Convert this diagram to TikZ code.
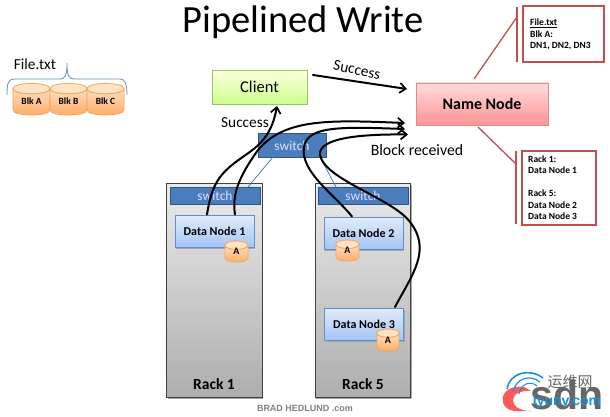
\documentclass[tikz,border=0pt]{standalone}
\usepackage{fontspec}
\setmainfont{Carlito}
\newfontfamily\cjk{Noto Sans CJK SC}
\newfontfamily\lib{Liberation Sans}
\usetikzlibrary{arrows.meta,shadows}
\definecolor{swfill}{HTML}{4A7DBB}
\definecolor{swline}{HTML}{2F5587}
\definecolor{redline}{HTML}{C0504D}
\definecolor{logoblue}{HTML}{1E90D8}
\definecolor{dntop}{HTML}{E2ECFB}
\definecolor{dnbot}{HTML}{A3C5F6}
\definecolor{dnline}{HTML}{5F8FC8}
\tikzset{
  px/.style={font=\fontsize{#1}{#1}\selectfont},
  boxbase/.style={inner sep=0pt,outer sep=0pt,align=center},
  shad/.style={general shadow={fill=black!35,shadow xshift=1pt,shadow yshift=-1.5pt}},
  rackbox/.style={boxbase,draw=black!75,line width=0.8pt,top color=black!8,bottom color=black!32,minimum width=95.5pt,minimum height=214pt,shad},
  switchbox/.style={boxbase,draw=swline,line width=1pt,fill=swfill,text=white!88!blue,px=13.5},
  datanode/.style={boxbase,draw=dnline,line width=0.8pt,top color=dntop,bottom color=dnbot,minimum width=79pt,minimum height=32pt,font=\fontsize{12}{13}\selectfont\bfseries,shad},
  wire/.style={line width=2pt,black,line cap=round},
  wirearrow/.style={wire,-{Straight Barb[length=6pt,width=10pt,line width=1.7pt]}},
  uplink/.style={line width=0.8pt,swfill},
  redcall/.style={line width=1.3pt,redline},
  redbox/.style={boxbase,draw=redline,line width=1.3pt,fill=white},
  smalltxt/.style={anchor=west,inner sep=0pt,font=\fontsize{9.5}{9.5}\selectfont\bfseries},
  bracecol/.style={line width=0.8pt,color=blue!40!cyan!45!black!60},
  label/.style={inner sep=0pt,px=15.3}
}
\newcommand{\cylin}[6]{%
  % x1, x2, ytop (top of ellipse), ybottom (lowest point), label, font size
  \pgfmathsetmacro{\ry}{2.7+0.065*(#2-#1)}%
  \pgfmathsetmacro{\rk}{4/3*\ry}%
  \path[draw=orange!70!brown!70,line width=0.8pt,top color=orange!25!white,bottom color=orange!60!white!95!red]
    (#1,#3+\ry) -- (#1,#4-\ry) .. controls (#1,#4-\ry+\rk) and (#2,#4-\ry+\rk) .. (#2,#4-\ry)
    -- (#2,#3+\ry) .. controls (#2,#3+\ry+\rk) and (#1,#3+\ry+\rk) .. (#1,#3+\ry) -- cycle;
  \path[draw=orange!70!brown!70,line width=0.8pt,fill=orange!22!white]
    (#1,#3+\ry) .. controls (#1,#3+\ry-\rk) and (#2,#3+\ry-\rk) .. (#2,#3+\ry)
    .. controls (#2,#3+\ry+\rk) and (#1,#3+\ry+\rk) .. (#1,#3+\ry) -- cycle;
  \node[inner sep=0pt,font=\fontsize{#6}{#6}\selectfont\bfseries] at ({(#1+#2)/2},{(#3+#4)/2+(#4-#3-20)*0.2}) {#5};
}
\begin{document}
\begin{tikzpicture}[x=1pt,y=-1pt]
\useasboundingbox (0,0) rectangle (610,417);
\fill[white] (0,0) rectangle (610,417);

% title
\node[inner sep=0pt,px=38.5,anchor=base] (title) at (303,33) {Pipelined Write};

% left file group
\node[label] (filetxt) at (35,64.5) {File.txt};
\draw[bracecol] (7,95) .. controls (7,84) and (8,79) .. (14,79) -- (60,79)
  .. controls (65,79) and (67,76) .. (67,63) .. controls (67,76) and (69,79) .. (74,79)
  -- (120,79) .. controls (125,79) and (127,84) .. (127,95);
\cylin{13}{50}{83.5}{115}{Blk A}{9.5}
\cylin{50}{87}{83.5}{115}{Blk B}{9.5}
\cylin{87}{124}{83.5}{115}{Blk C}{9.5}

% racks
\node[rackbox] (rack1) at (214.5,290) {};
\node[rackbox] (rack5) at (363,290) {};
\node[inner sep=0pt,font=\fontsize{15.5}{16}\selectfont\bfseries] (rack1l) at (214,384) {Rack 1};
\node[inner sep=0pt,font=\fontsize{15.5}{16}\selectfont\bfseries] (rack5l) at (363,384) {Rack 5};

% switches
\node[switchbox,minimum width=90pt,minimum height=17pt] (sw1) at (215,195.5) {switch};
\node[switchbox,minimum width=90pt,minimum height=17pt] (sw5) at (363,195.5) {switch};
\node[switchbox,minimum width=68pt,minimum height=23pt] (sw0) at (292,145.5) {switch};
\coordinate (sw0a) at (273,157);
\coordinate (sw0b) at (320,157);
\coordinate (r1a) at (248,187);
\coordinate (r5a) at (336,187);
\draw[uplink] (sw0a) -- (r1a);
\draw[uplink] (sw0b) -- (r5a);

% data nodes
\node[datanode] (dn1) at (214.5,231) {Data Node 1};
\node[datanode] (dn2) at (363.5,233) {Data Node 2};
\node[datanode] (dn3) at (364,324) {Data Node 3};
\cylin{225}{248}{241}{262}{A}{10}
\cylin{336}{359}{240}{261}{A}{10}
\cylin{377}{399}{329}{351}{A}{10}

% client and name node
\node[boxbase,draw=green!40!yellow!60!black!60,line width=0.8pt,top color=green!5!yellow!12!white,bottom color=green!45!yellow!45!white,minimum width=95pt,minimum height=34pt,px=16.5,shad] (client) at (259.5,87) {Client};
\node[boxbase,draw=red!35!white!85!black,line width=0.8pt,top color=red!14!white,bottom color=red!42!white,minimum width=132pt,minimum height=42pt,font=\fontsize{16}{16}\selectfont\bfseries,shad] (name) at (482,104) {Name Node};

% metadata boxes
\node[redbox,minimum width=81pt,minimum height=56pt] (meta1) at (563.5,34) {};
\node[redbox,minimum width=74pt,minimum height=74pt] (meta2) at (559,188) {};
\coordinate (b1t) at (517,7);
\coordinate (b1b) at (517,62);
\coordinate (b1m) at (517,17);
\coordinate (b2t) at (516,151);
\coordinate (b2b) at (516,224);
\coordinate (b2m) at (516,164);
\coordinate (n1) at (474,79);
\coordinate (n2) at (478,127);
\draw[redcall] (b1t) -- (b1b);
\draw[redcall] (b2t) -- (b2b);
\draw[redcall] (n1) -- (b1m);
\draw[redcall] (n2) -- (b2m);
\node[smalltxt] (m1a) at (530,23) {\underline{File.txt}};
\node[smalltxt] (m1b) at (530,34.5) {Blk A:};
\node[smalltxt] (m1c) at (530,46) {DN1, DN2, DN3};
\node[smalltxt] (m2a) at (528,159) {Rack 1:};
\node[smalltxt] (m2b) at (528,170) {Data Node 1};
\node[smalltxt] (m2c) at (528,193) {Rack 5:};
\node[smalltxt] (m2d) at (528,205) {Data Node 2};
\node[smalltxt] (m2e) at (528,216) {Data Node 3};

% labels
\node[label,rotate=-12] (succ1) at (357,70) {Success};
\node[label] (succ2) at (245,122.5) {Success};
\node[label,px=15.8] (blockrec) at (417,150.5) {Block received};

% wires
\coordinate (dn1a) at (207,214.5);
\coordinate (dn1b) at (235,214.5);
\coordinate (dn2a) at (352,216.5);
\coordinate (dn3a) at (395,307);
\coordinate (cl) at (277,106);
\coordinate (cr) at (313,75);
\coordinate (nw) at (407,89);
\coordinate (na) at (405,123);
\coordinate (nb) at (405,129);
\coordinate (nc) at (408,134.5);

\draw[wirearrow] (cr) -- (nw);
\draw[wirearrow] (dn1a) .. controls (211,190) and (216,178) .. (232,165)
  .. controls (250,150) and (270,145) .. (cl);
\draw[wirearrow] (dn1b) .. controls (232,195) and (238,178) .. (258,150)
  .. controls (285,118) and (330,120) .. (na);
\draw[wirearrow] (dn2a) .. controls (335,195) and (300,172) .. (304,147)
  .. controls (307,125) and (345,127) .. (nb);
\draw[wirearrow] (dn3a) .. controls (412,275) and (432,250) .. (410,222)
  .. controls (392,198) and (325,180) .. (320,155)
  .. controls (318,138) and (360,134) .. (nc);

% watermark
\fill[red!65!white] (524,387) .. controls (497,383) and (495,414) .. (521,411)
  -- (531,411) .. controls (507,411) and (507,389) .. (531,391) -- cycle;
\draw[logoblue,line width=1.6pt] (507,389) .. controls (510,372) and (530,368) .. (543,378);
\draw[logoblue,line width=1.2pt] (513,392) .. controls (516,378) and (530,374) .. (540,382);
\draw[logoblue,line width=1pt] (519,394) .. controls (521,384) and (530,380) .. (537,386);
\node[inner sep=0pt,font=\fontsize{15}{15}\selectfont\cjk,text=black!60] (wm1) at (570,382) {运维网};
\node[inner sep=0pt,font=\fontsize{41}{41}\selectfont\lib\bfseries,text=black!60,anchor=base] (wm2) at (567,409) {sdn};
\node[inner sep=0pt,font=\fontsize{14}{14}\selectfont\lib\bfseries,text=logoblue,anchor=base] (wm3) at (567,405) {iyunv.com};

% credit
\node[inner sep=0pt,font=\fontsize{9}{9}\selectfont\lib\bfseries,text=black!50] (credit) at (305,408) {BRAD HEDLUND .com};
\end{tikzpicture}
\end{document}
